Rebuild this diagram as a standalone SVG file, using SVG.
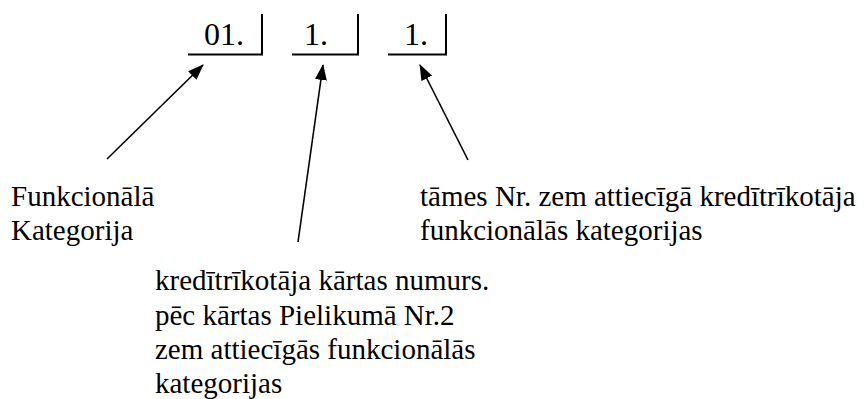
<svg xmlns="http://www.w3.org/2000/svg" width="866" height="399" viewBox="0 0 866 399">
<style>
.lbl{font-family:'Liberation Serif','Times New Roman',serif;font-size:29px;fill:#000}
.num{font-family:'Liberation Serif','Times New Roman',serif;font-size:32px;fill:#000}
.box{fill:none;stroke:#000;stroke-width:2}
.conn{fill:none;stroke:#000;stroke-width:1.6}
</style>
<defs>
<marker id="ah" markerUnits="userSpaceOnUse" markerWidth="16" markerHeight="12" refX="15" refY="6" orient="auto">
<path d="M0,0 L16,6 L0,12 z" fill="#000"/>
</marker>
</defs>
<rect width="866" height="399" fill="#fff"/>
<g id="box1">
<path class="box" d="M188,54.5 H262 V14"/>
<text class="num" x="204" y="45">01.</text>
</g>
<g id="box2">
<path class="box" d="M292,54.5 H358 V14"/>
<text class="num" x="304" y="45">1.</text>
</g>
<g id="box3">
<path class="box" d="M388,54.5 H446 V14"/>
<text class="num" x="404" y="45">1.</text>
</g>
<g id="connectors">
<line class="conn" x1="107" y1="159" x2="203" y2="65" marker-end="url(#ah)"/>
<line class="conn" x1="298" y1="242" x2="323" y2="65" marker-end="url(#ah)"/>
<line class="conn" x1="468" y1="160" x2="420" y2="65" marker-end="url(#ah)"/>
</g>
<g id="label1">
<text class="lbl" x="11" y="206">Funkcionālā</text>
<text class="lbl" x="11" y="240">Kategorija</text>
</g>
<g id="label3">
<text class="lbl" x="420" y="206">tāmes Nr. zem attiecīgā kredītrīkotāja</text>
<text class="lbl" x="420" y="240">funkcionālās kategorijas</text>
</g>
<g id="label2">
<text class="lbl" x="155" y="290">kredītrīkotāja kārtas numurs.</text>
<text class="lbl" x="155" y="325">pēc kārtas Pielikumā Nr.2</text>
<text class="lbl" x="155" y="359">zem attiecīgās funkcionālās</text>
<text class="lbl" x="155" y="393">kategorijas</text>
</g>
</svg>
